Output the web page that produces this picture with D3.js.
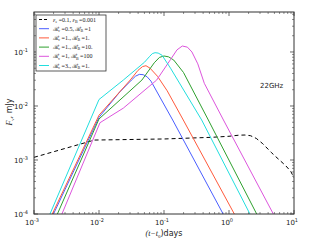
<!DOCTYPE html>
<html>
<head>
<meta charset="utf-8">
<script src="https://cdn.jsdelivr.net/npm/d3@7"></script>
<style>
  body { margin: 0; background: #fff; }
  text { font-family: "DejaVu Sans", sans-serif; }
</style>
</head>
<body>
<div id="chart"></div>
<script>
// light curve points, [t (days), F (mJy)]
const blue = [[0.001995, 1e-4], [0.01, 0.00617], [0.0209, 0.0182], [0.0316, 0.0302], [0.0363, 0.0355],
  [0.0417, 0.0385], [0.0479, 0.038], [0.055, 0.0347], [0.0631, 0.0288], [0.136, 0.0055], [0.813, 1e-4]];
const red = [[0.00191, 1e-4], [0.01, 0.00676], [0.0302, 0.0302], [0.0398, 0.0457], [0.0468, 0.0537],
  [0.0528, 0.0557], [0.061, 0.0501], [0.0794, 0.0355], [0.112, 0.0191], [0.198, 0.0055], [1.208, 1e-4]];
const green = [[0.00229, 1e-4], [0.01, 0.00575], [0.0457, 0.0302], [0.0708, 0.0631], [0.0851, 0.0794],
  [0.1, 0.0843], [0.1175, 0.0813], [0.1413, 0.0708], [0.1995, 0.0417], [0.481, 0.0055], [2.667, 1e-4]];
const magenta = [[0.00269, 1e-4], [0.01035, 0.0049], [0.02366, 0.00912], [0.0771, 0.0302], [0.126, 0.0724],
  [0.1585, 0.1096], [0.1914, 0.129], [0.229, 0.123], [0.269, 0.1], [0.331, 0.0603], [0.417, 0.0263],
  [0.822, 0.0055], [4.81, 1e-4]];
const cyan = [[0.00176, 1e-4], [0.01, 0.01318], [0.02366, 0.0302], [0.0501, 0.0646], [0.0603, 0.0832],
  [0.0661, 0.0933], [0.0728, 0.097], [0.0813, 0.0955], [0.0933, 0.0871], [0.126, 0.0501],
  [0.38, 0.0055], [2.1, 1e-4]];
const dashed = [[0.001, 0.00112], [0.00851, 0.00234], [0.1, 0.00245], [0.54, 0.00263], [1, 0.00275],
  [1.413, 0.00288], [1.76, 0.0029], [2.14, 0.00282], [2.63, 0.00251], [3.31, 0.002], [4.47, 0.00138],
  [5.25, 0.00115], [7.41, 0.00079], [8.91, 0.000617], [10, 0.000468]];

const labels = [
  ["ε", "e", " =0.1, ", "ε", "B", " =0.001"],
  ["ℛ", "v", " =0.5, ", "ℛ", "B", " =1"],
  ["ℛ", "v", " =1., ", "ℛ", "B", " =1."],
  ["ℛ", "v", " =1., ", "ℛ", "B", " =10."],
  ["ℛ", "v", " =1, ", "ℛ", "B", " =100"],
  ["ℛ", "v", " =3., ", "ℛ", "B", " =1."]
];
const series = [dashed, blue, red, green, magenta, cyan];
const colors = ["#000000", "#4a5eff", "#ff5a3c", "#2ea02e", "#dd55dd", "#22dede"];

const xDecades = [-3, -2, -1, 0, 1];
const yDecades = [-4, -3, -2, -1];

const margin = { top: 12, right: 21, bottom: 30, left: 34 },
  width = 315 - margin.left - margin.right,
  height = 244 - margin.top - margin.bottom;

const svg = d3.select("#chart").append("svg")
  .attr("width", 315).attr("height", 244);
const g = svg.append("g")
  .attr("transform", "translate(" + margin.left + "," + margin.top + ")");

const x = d3.scaleLog().domain([1e-3, 10]).range([0, width]);
const y = d3.scaleLog().domain([1e-4, 0.55]).range([height, 0]);

// minor ticks
function minors(lo, hi, dom) {
  const out = [];
  for (let e = lo; e < hi; e++)
    for (let k = 2; k < 10; k++) {
      const v = k * Math.pow(10, e);
      if (v >= dom[0] && v <= dom[1]) out.push(v);
    }
  return out;
}
const xMinor = minors(-3, 1, x.domain());
const yMinor = minors(-4, 0, y.domain());
const xMajor = xDecades.map(d => Math.pow(10, d));
const yMajor = yDecades.map(d => Math.pow(10, d));

const tickCol = "#444";
// x ticks, bottom and top
[[height, -1], [0, 1]].forEach(function (p) {
  g.selectAll(null).data(xMajor).enter().append("line")
    .attr("x1", d => x(d)).attr("x2", d => x(d))
    .attr("y1", p[0]).attr("y2", p[0] + p[1] * 4)
    .attr("stroke", tickCol).attr("stroke-width", 0.8);
  g.selectAll(null).data(xMinor).enter().append("line")
    .attr("x1", d => x(d)).attr("x2", d => x(d))
    .attr("y1", p[0]).attr("y2", p[0] + p[1] * 2)
    .attr("stroke", tickCol).attr("stroke-width", 0.6);
});
// y ticks, left and right
[[0, 1], [width, -1]].forEach(function (p) {
  g.selectAll(null).data(yMajor).enter().append("line")
    .attr("y1", d => y(d)).attr("y2", d => y(d))
    .attr("x1", p[0]).attr("x2", p[0] + p[1] * 4)
    .attr("stroke", tickCol).attr("stroke-width", 0.8);
  g.selectAll(null).data(yMinor).enter().append("line")
    .attr("y1", d => y(d)).attr("y2", d => y(d))
    .attr("x1", p[0]).attr("x2", p[0] + p[1] * 2)
    .attr("stroke", tickCol).attr("stroke-width", 0.6);
});

// tick labels
const xl = g.selectAll(null).data(xDecades).enter().append("text")
  .attr("x", d => x(Math.pow(10, d)) - 2)
  .attr("y", height + 11)
  .attr("text-anchor", "middle")
  .style("font-size", "7px").attr("fill", "#222");
xl.append("tspan").text("10");
xl.append("tspan").attr("dy", -3).style("font-size", "5px").text(d => d);

const yl = g.selectAll(null).data(yDecades).enter().append("text")
  .attr("x", -20)
  .attr("y", d => y(Math.pow(10, d)) + 3)
  .style("font-size", "7px").attr("fill", "#222");
yl.append("tspan").text("10");
yl.append("tspan").attr("dy", -3).style("font-size", "5px").text(d => d);

// curves
const line = d3.line()
  .x(d => x(d[0]))
  .y(d => y(d[1]));

svg.append("clipPath").attr("id", "clip")
  .append("rect").attr("width", width).attr("height", height);

g.selectAll(".curve").data(series).enter().append("path")
  .attr("class", "curve")
  .attr("clip-path", "url(#clip)")
  .attr("d", line)
  .attr("fill", "none")
  .attr("stroke", (d, i) => colors[i])
  .attr("stroke-width", 1)
  .attr("stroke-linejoin", "round")
  .attr("stroke-dasharray", (d, i) => i == 0 ? "4,3" : null);

// frame
g.append("rect").attr("width", width).attr("height", height)
  .attr("fill", "none").attr("stroke", "#333").attr("stroke-width", 1);

// axis labels
const xt = svg.append("text")
  .attr("x", margin.left + width / 2).attr("y", 236)
  .attr("text-anchor", "middle").style("font-size", "8px").attr("fill", "#222");
xt.append("tspan").style("font-family", "Liberation Serif, serif").style("font-style", "italic").text("(t\u2212t");
xt.append("tspan").attr("dy", 1.5).style("font-size", "5px").style("font-family", "Liberation Serif, serif").text("0");
xt.append("tspan").attr("dy", -1.5).text(")days");

const yt = svg.append("text")
  .attr("transform", "translate(12," + 112 + ")rotate(-90)")
  .attr("text-anchor", "middle").style("font-size", "8px").attr("fill", "#222");
yt.append("tspan").style("font-family", "Liberation Serif, serif").style("font-style", "italic").text("F");
yt.append("tspan").attr("dy", 1.5).style("font-size", "5px").style("font-family", "Liberation Serif, serif").text("ν");
yt.append("tspan").attr("dy", -1.5).text(", mJy");

svg.append("text").attr("x", 260).attr("y", 88)
  .style("font-size", "7px").attr("fill", "#222").text("22GHz");

// legend
const leg = svg.append("g").attr("transform", "translate(36,15)");
leg.append("rect").attr("width", 70).attr("height", 56)
  .attr("fill", "#fff").attr("stroke", "#333").attr("stroke-width", 0.8);
labels.forEach(function (lab, i) {
  const yy = 4.5 + i * 9.2;
  leg.append("line").attr("x1", 3).attr("x2", 13).attr("y1", yy).attr("y2", yy)
    .attr("stroke", colors[i]).attr("stroke-width", 1)
    .attr("stroke-dasharray", i == 0 ? "3,2" : null);
  const t = leg.append("text").attr("x", 17).attr("y", yy + 2)
    .style("font-family", "Liberation Serif, serif").style("font-size", "6px").attr("fill", "#222");
  t.append("tspan").style("font-style", "italic").text(lab[0]);
  t.append("tspan").attr("dy", 1.2).style("font-size", "4px").text(lab[1]);
  t.append("tspan").attr("dy", -1.2).text(lab[2]);
  t.append("tspan").style("font-style", "italic").text(lab[3]);
  t.append("tspan").attr("dy", 1.2).style("font-size", "4px").text(lab[4]);
  t.append("tspan").attr("dy", -1.2).text(lab[5]);
});
</script>
</body>
</html>
